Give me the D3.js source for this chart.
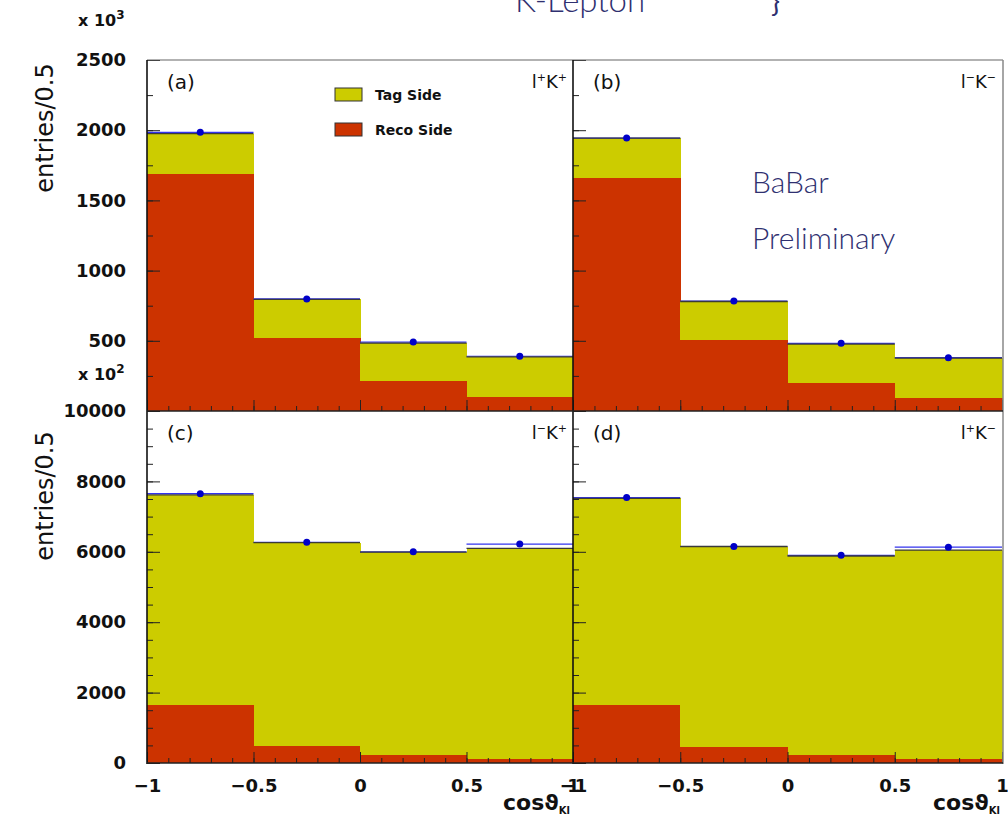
<!DOCTYPE html>
<html>
<head>
<meta charset="utf-8">
<script src="https://cdn.jsdelivr.net/npm/d3@7"></script>
<style>
  html, body { margin: 0; padding: 0; background: #fff; }
  svg { display: block; }
</style>
</head>
<body>
<svg id="chart" width="1008" height="818"></svg>
<script>
// cos(theta_Kl) bins
const binEdges = [-1, -0.5, 0, 0.5, 1];

// (a) l+K+
const recoA = [1690, 520, 215, 100];
const tagA  = [285, 275, 269, 285];
const dataA = [1985, 798, 491, 390];

// (b) l-K-
const recoB = [1660, 506, 200, 93];
const tagB  = [284, 274, 277, 284];
const dataB = [1944, 783, 482, 380];

// (c) l-K+
const recoC = [1650, 485, 255, 130];
const tagC  = [5970, 5775, 5735, 5970];
const dataC = [7650, 6270, 6000, 6220];

// (d) l+K-
const recoD = [1650, 480, 250, 130];
const tagD  = [5870, 5670, 5630, 5920];
const dataD = [7540, 6150, 5900, 6130];

const xTicks = [-1, -0.5, 0, 0.5, 1];
const yTicksTop = [500, 1000, 1500, 2000, 2500];
const yTicksBot = [0, 2000, 4000, 6000, 8000, 10000];

const svg = d3.select("#chart");
const YELLOW = "#cccc00", RED = "#cc3300", BLUE = "#0000c8", EDGE = "#3a3a3a";
const NUMFONT = "DejaVu Sans";

const xL = d3.scaleLinear().domain([-1, 1]).range([147, 573]);
const xR = d3.scaleLinear().domain([-1, 1]).range([573, 1002]);
const yTop = d3.scaleLinear().domain([0, 2500]).range([411, 60]);
const yBot = d3.scaleLinear().domain([0, 10000]).range([763, 411]);

const panels = [
  {x: xL, y: yTop, reco: recoA, tag: tagA, data: dataA, tag1: "(a)", sign: ["+", "+"]},
  {x: xR, y: yTop, reco: recoB, tag: tagB, data: dataB, tag1: "(b)", sign: ["−", "−"]},
  {x: xL, y: yBot, reco: recoC, tag: tagC, data: dataC, tag1: "(c)", sign: ["−", "+"]},
  {x: xR, y: yBot, reco: recoD, tag: tagD, data: dataD, tag1: "(d)", sign: ["+", "−"]}
];

panels.forEach(p => {
  const g = svg.append("g");
  const bins = d3.range(binEdges.length - 1).map(i => ({
    x0: binEdges[i], x1: binEdges[i + 1],
    reco: p.reco[i], tag: p.tag[i], data: p.data[i]
  }));
  // stacked histogram: Reco side at the bottom, Tag side above
  g.selectAll("rect.reco").data(bins).join("rect")
    .attr("x", d => p.x(d.x0)).attr("width", d => p.x(d.x1) - p.x(d.x0) + 0.6)
    .attr("y", d => p.y(d.reco)).attr("height", d => p.y(0) - p.y(d.reco))
    .attr("fill", RED).attr("shape-rendering", "crispEdges");
  g.selectAll("rect.tag").data(bins).join("rect")
    .attr("x", d => p.x(d.x0)).attr("width", d => p.x(d.x1) - p.x(d.x0) + 0.6)
    .attr("y", d => p.y(d.reco + d.tag)).attr("height", d => p.y(d.reco) - p.y(d.reco + d.tag) + 0.5)
    .attr("fill", YELLOW).attr("shape-rendering", "crispEdges");
  // data level across each bin
  g.selectAll("line.data").data(bins).join("line")
    .attr("x1", d => p.x(d.x0)).attr("x2", d => p.x(d.x1))
    .attr("y1", d => p.y(d.data)).attr("y2", d => p.y(d.data))
    .attr("stroke", "#3333ee").attr("stroke-width", 1.2);
  // outline of stacked total
  g.selectAll("line.tot").data(bins).join("line")
    .attr("x1", d => p.x(d.x0)).attr("x2", d => p.x(d.x1))
    .attr("y1", d => p.y(d.reco + d.tag)).attr("y2", d => p.y(d.reco + d.tag))
    .attr("stroke", EDGE).attr("stroke-width", 1.3);
  // data points
  g.selectAll("circle").data(bins).join("circle")
    .attr("cx", d => p.x((d.x0 + d.x1) / 2)).attr("cy", d => p.y(d.data))
    .attr("r", 3.5).attr("fill", BLUE);

  // panel label and charge combination
  g.append("text").attr("x", p.x(-1) + 20).attr("y", p.y.range()[1] + 29)
    .attr("font-family", NUMFONT).attr("font-size", 20).attr("fill", "#111")
    .text(p.tag1);
  const lab = g.append("text").attr("x", p.x(1) - 6).attr("y", p.y.range()[1] + 28)
    .attr("text-anchor", "end").attr("font-family", NUMFONT).attr("font-size", 18).attr("fill", "#111");
  lab.append("tspan").text("l");
  lab.append("tspan").attr("dy", -7).attr("font-size", 11).text(p.sign[0]);
  lab.append("tspan").attr("dy", 7).text("K");
  lab.append("tspan").attr("dy", -7).attr("font-size", 11).text(p.sign[1]);

  // x axis (ticks pointing inward)
  const xMinor = d3.range(-1, 1.0001, 0.1);
  g.append("g").attr("transform", `translate(0,${p.y(0)})`)
    .call(d3.axisBottom(p.x).tickValues(xMinor).tickSize(-5).tickFormat(""))
    .call(a => a.select(".domain").remove())
    .call(a => a.selectAll("line").attr("stroke", "#222"));
  g.append("g").attr("transform", `translate(0,${p.y(0)})`)
    .call(d3.axisBottom(p.x).tickValues(xTicks).tickSize(-11).tickFormat(""))
    .call(a => a.select(".domain").remove())
    .call(a => a.selectAll("line").attr("stroke", "#222"));

  // y axis minor/major ticks on the left edge of each panel
  const top = p.y.domain()[1];
  const minorStep = top === 2500 ? 250 : 500;
  g.append("g").attr("transform", `translate(${p.x(-1)},0)`)
    .call(d3.axisLeft(p.y).tickValues(d3.range(0, top + 1, minorStep)).tickSize(-6).tickFormat(""))
    .call(a => a.select(".domain").remove())
    .call(a => a.selectAll("line").attr("stroke", "#222"));
  g.append("g").attr("transform", `translate(${p.x(-1)},0)`)
    .call(d3.axisLeft(p.y).tickValues(top === 2500 ? yTicksTop : yTicksBot).tickSize(-13).tickFormat(""))
    .call(a => a.select(".domain").remove())
    .call(a => a.selectAll("line").attr("stroke", "#222"));
});

// frames
svg.append("line").attr("x1", 147).attr("x2", 1003).attr("y1", 60).attr("y2", 60).attr("stroke", "#666").attr("stroke-width", 1.1);
svg.append("line").attr("x1", 1003).attr("x2", 1003).attr("y1", 60).attr("y2", 764).attr("stroke", "#888").attr("stroke-width", 1.5);
[147, 573].forEach(x => svg.append("line").attr("x1", x).attr("x2", x).attr("y1", 60).attr("y2", 764).attr("stroke", "#111").attr("stroke-width", 1.6));
[411, 763].forEach(y => svg.append("line").attr("x1", 147).attr("x2", 1003).attr("y1", y).attr("y2", y).attr("stroke", "#222").attr("stroke-width", 1.6));

// y tick labels
function yLabels(scale, vals) {
  svg.append("g").attr("transform", "translate(147,0)")
    .call(d3.axisLeft(scale).tickValues(vals).tickSize(0).tickPadding(21).tickFormat(d3.format("d")))
    .call(a => a.select(".domain").remove())
    .call(a => a.selectAll("text").attr("font-family", NUMFONT).attr("font-weight", "bold")
      .attr("font-size", 18).attr("fill", "#111"));
}
yLabels(yTop, yTicksTop);
yLabels(yBot, yTicksBot);

// x tick labels
function xLabels(scale, dx) {
  svg.append("g").attr("transform", `translate(${dx},763)`)
    .call(d3.axisBottom(scale).tickValues(xTicks).tickSize(0).tickPadding(16)
      .tickFormat(d => d3.format("")(d).replace("-", "−")))
    .call(a => a.select(".domain").remove())
    .call(a => a.selectAll("text").attr("font-family", NUMFONT).attr("font-weight", "bold")
      .attr("font-size", 18).attr("fill", "#111"));
}
xLabels(xL, 0);
xLabels(xR, 0);

// axis titles
[[128, "entries/0.5"], [496, "entries/0.5"]].forEach(([cy, t]) => {
  svg.append("text").attr("transform", `translate(53,${cy}) rotate(-90)`)
    .attr("text-anchor", "middle").attr("font-family", NUMFONT).attr("font-size", 24)
    .attr("fill", "#111").text(t);
});
[[78, 26, "3"], [78, 380, "2"]].forEach(([x, y, e]) => {
  const t = svg.append("text").attr("x", x).attr("y", y)
    .attr("font-family", NUMFONT).attr("font-weight", "bold").attr("font-size", 16).attr("fill", "#111");
  t.append("tspan").text("x 10");
  t.append("tspan").attr("dy", -7).attr("font-size", 12).text(e);
});
[570, 1000].forEach(xr => {
  const t = svg.append("text").attr("x", xr).attr("y", 810).attr("text-anchor", "end")
    .attr("font-family", NUMFONT).attr("font-weight", "bold").attr("font-size", 22).attr("fill", "#111");
  t.append("tspan").text("cosϑ");
  t.append("tspan").attr("dy", 4).attr("font-size", 10).text("Kl");
});

// legend
const legend = [["Tag Side", YELLOW], ["Reco Side", RED]];
legend.forEach(([name, col], i) => {
  const yy = 88 + i * 35;
  svg.append("rect").attr("x", 335).attr("y", yy).attr("width", 27).attr("height", 13)
    .attr("fill", col).attr("stroke", "#333").attr("stroke-width", 1);
  svg.append("text").attr("x", 375).attr("y", yy + 12).attr("font-family", NUMFONT)
    .attr("font-weight", "bold").attr("font-size", 14).attr("fill", "#111").text(name);
});

// slide annotations
const NOTE = "#2f3070";
svg.append("text").attr("x", 515).attr("y", 12).attr("font-family", "Lato").attr("font-weight", 300)
  .attr("font-size", 33).attr("fill", NOTE).text("K-Lepton");
svg.append("text").attr("x", 771).attr("y", 12).attr("font-family", "Lato").attr("font-weight", 400)
  .attr("font-size", 30).attr("fill", NOTE).text("}");
svg.append("text").attr("x", 752).attr("y", 193).attr("font-family", "Lato").attr("font-weight", 300)
  .attr("font-size", 30).attr("fill", NOTE).text("BaBar");
svg.append("text").attr("x", 752).attr("y", 249).attr("font-family", "Lato").attr("font-weight", 300)
  .attr("font-size", 30).attr("fill", NOTE).text("Preliminary");
</script>
</body>
</html>
